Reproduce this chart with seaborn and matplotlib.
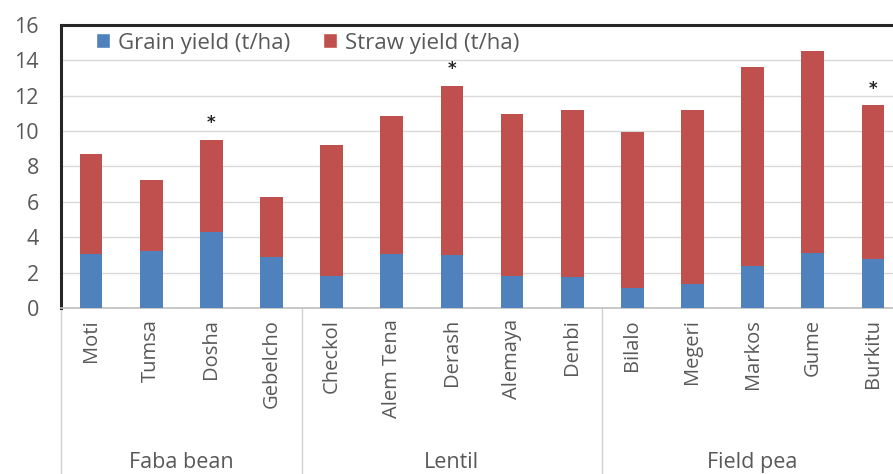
import matplotlib
matplotlib.use("Agg")
import matplotlib.pyplot as plt
import matplotlib.transforms as mtransforms
from matplotlib.patches import Patch
import seaborn as sns
import pandas as pd
import numpy as np

varieties = ["Moti", "Tumsa", "Dosha", "Gebelcho",
             "Checkol", "Alem Tena", "Derash", "Alemaya", "Denbi",
             "Bilalo", "Megeri", "Markos", "Gume", "Burkitu"]
crops = ["Faba bean"] * 4 + ["Lentil"] * 5 + ["Field pea"] * 5
grain = [3.08, 3.25, 4.32, 2.87, 1.79, 3.08, 2.97, 1.79, 1.74, 1.11, 1.34, 2.36, 3.13, 2.76]
straw = [5.62, 3.96, 5.17, 3.43, 7.44, 7.75, 9.60, 9.19, 9.43, 8.82, 9.83, 11.26, 11.40, 8.69]
starred = ["Dosha", "Derash", "Burkitu"]
group_names = ["Faba bean", "Lentil", "Field pea"]
yticks = [0, 2, 4, 6, 8, 10, 12, 14, 16]

BLUE = "#4F81BD"
RED = "#C0504D"
TXT = "#595959"

sns.set_theme(style="white")
plt.rcParams["font.family"] = ["Open Sans", "DejaVu Sans"]

df = pd.DataFrame({"variety": varieties, "crop": crops, "grain": grain, "straw": straw})
df["total"] = df["grain"] + df["straw"]

fig = plt.figure(figsize=(8.93, 4.74), dpi=100)
ax = fig.add_axes([61 / 893, 166 / 474, 842 / 893, 283 / 474])

sns.barplot(data=df, x="variety", y="total", color=RED, width=0.38, saturation=1,
            ax=ax, zorder=3, linewidth=0)
sns.barplot(data=df, x="variety", y="grain", color=BLUE, width=0.38, saturation=1,
            ax=ax, zorder=4, linewidth=0)

ax.set_ylim(0, 16)
ax.set_xlim(-0.5, len(varieties) - 0.5)
ax.set_yticks(yticks)
ax.set_yticklabels([str(t) for t in yticks])
ax.set_xlabel("")
ax.set_ylabel("")
ax.yaxis.grid(True, color="#D9D9D9", linewidth=1.0, zorder=0)
ax.set_axisbelow(True)
ax.tick_params(axis="y", length=0, pad=16, labelsize=15.5, labelcolor=TXT)
ax.tick_params(axis="x", length=0, pad=8, labelsize=14.5, labelcolor=TXT)
ax.set_xticks(range(len(varieties)))
ax.set_xticklabels(varieties, rotation=90, va="top", ha="center")

for side in ["left", "top"]:
    ax.spines[side].set_color("#262626")
    ax.spines[side].set_linewidth(2.2)
ax.spines["bottom"].set_color("#BFBFBF")
ax.spines["bottom"].set_linewidth(1.2)
ax.spines["right"].set_visible(False)

# asterisks
for i, v in enumerate(varieties):
    if v in starred:
        ax.text(i, df["total"][i] + 0.45, "*", ha="center", va="bottom",
                fontsize=12, fontweight="bold", color="#262626", fontfamily="DejaVu Sans")

# group separators and labels
trans = mtransforms.blended_transform_factory(ax.transData, ax.transAxes)
bounds = [-0.5]
count = 0
for g in group_names:
    n = crops.count(g)
    start = count
    count += n
    bounds.append(count - 0.5)
    ax.text((start + count - 1) / 2, -0.545, g, transform=trans, ha="center", va="center",
            fontsize=15.5, color=TXT, clip_on=False)
for b in bounds:
    ax.plot([b, b], [0, -0.65], transform=trans, color="#D0D0D0", linewidth=1.0,
            clip_on=False, zorder=1)

handles = [Patch(facecolor=BLUE, label="Grain yield (t/ha)"),
           Patch(facecolor=RED, label="Straw yield (t/ha)")]
leg = ax.legend(handles=handles, loc="center left", bbox_to_anchor=(0.031, 0.936),
                ncol=2, frameon=False, fontsize=16, handlelength=0.65, handleheight=0.65,
                handletextpad=0.35, columnspacing=1.45, borderaxespad=0)
for t in leg.get_texts():
    t.set_color(TXT)

fig.savefig("out.png", dpi=100)
